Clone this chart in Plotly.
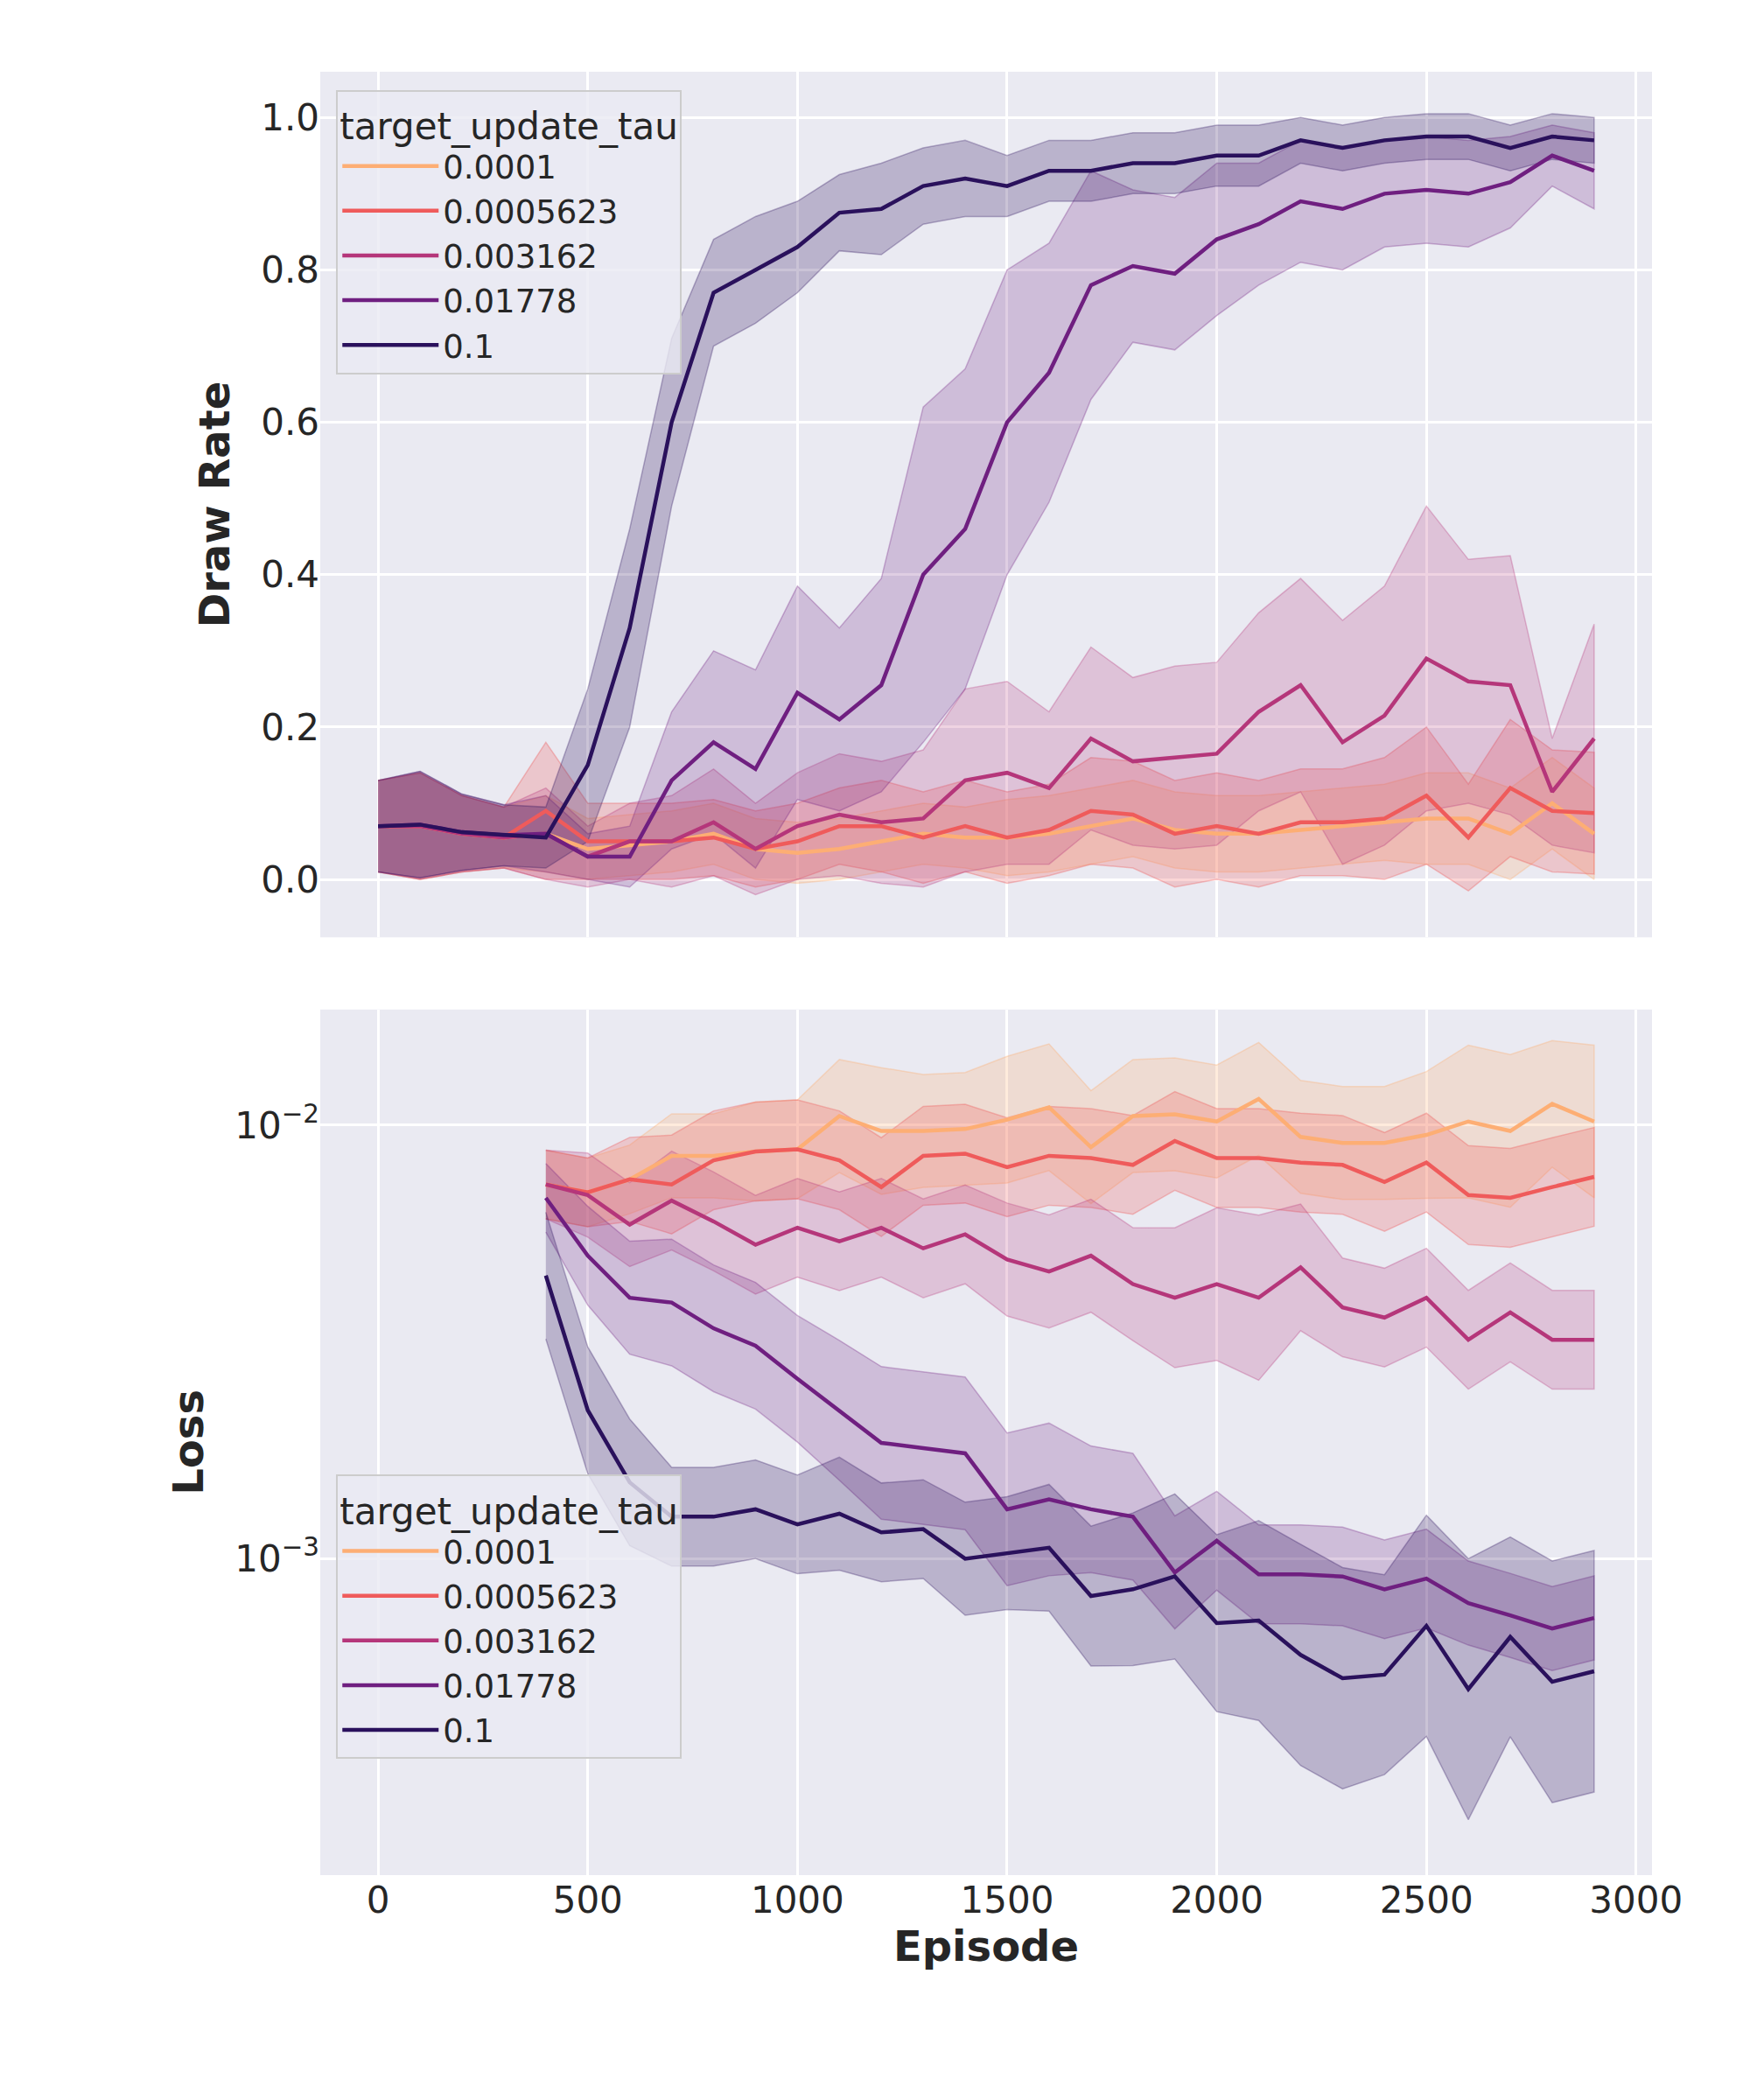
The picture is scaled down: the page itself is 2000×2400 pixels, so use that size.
import plotly.graph_objects as go
from plotly.subplots import make_subplots

taus = ["0.0001", "0.0005623", "0.003162", "0.01778", "0.1"]
colors = ["#fdae74", "#ef5b5b", "#b5367a", "#6f1f80", "#2a115c"]
fills = ["rgba(253,174,116,0.25)", "rgba(239,91,91,0.25)", "rgba(181,54,122,0.22)",
         "rgba(111,31,128,0.22)", "rgba(42,17,92,0.25)"]
edges = ["rgba(253,174,116,0.35)", "rgba(239,91,91,0.35)", "rgba(181,54,122,0.3)",
         "rgba(111,31,128,0.3)", "rgba(42,17,92,0.3)"]

ep_draw = list(range(0, 3000, 100))
ep_loss = list(range(400, 3000, 100))

draw = {
    "0.0001": [0.07, 0.07, 0.06, 0.055, 0.06, 0.04, 0.045, 0.05, 0.06, 0.04, 0.035, 0.04, 0.05, 0.06, 0.055,
               0.055, 0.06, 0.07, 0.08, 0.065, 0.06, 0.06, 0.065, 0.07, 0.075, 0.08, 0.08, 0.06, 0.1, 0.06],
    "0.0005623": [0.07, 0.07, 0.06, 0.055, 0.09, 0.05, 0.05, 0.05, 0.055, 0.04, 0.05, 0.07, 0.07, 0.055, 0.07,
                  0.055, 0.065, 0.09, 0.085, 0.06, 0.07, 0.06, 0.075, 0.075, 0.08, 0.11, 0.055, 0.12, 0.09, 0.087],
    "0.003162": [0.07, 0.07, 0.06, 0.055, 0.06, 0.03, 0.05, 0.05, 0.075, 0.04, 0.07, 0.085, 0.075, 0.08, 0.13,
                 0.14, 0.12, 0.185, 0.155, 0.16, 0.165, 0.22, 0.255, 0.18, 0.215, 0.29, 0.26, 0.255, 0.115, 0.185],
    "0.01778": [0.07, 0.072, 0.062, 0.058, 0.06, 0.03, 0.03, 0.13, 0.18, 0.145, 0.245, 0.21, 0.255, 0.4, 0.46,
                0.6, 0.665, 0.78, 0.805, 0.795, 0.84, 0.86, 0.89, 0.88, 0.9, 0.905, 0.9, 0.915, 0.95, 0.93],
    "0.1": [0.07, 0.072, 0.062, 0.058, 0.055, 0.15, 0.33, 0.6, 0.77, 0.8, 0.83, 0.875, 0.88, 0.91, 0.92,
            0.91, 0.93, 0.93, 0.94, 0.94, 0.95, 0.95, 0.97, 0.96, 0.97, 0.975, 0.975, 0.96, 0.975, 0.97],
}
draw_err = {
    "0.0001": [0.06, 0.07, 0.05, 0.04, 0.05, 0.04, 0.04, 0.04, 0.04, 0.04, 0.04, 0.04, 0.04, 0.04, 0.04,
               0.05, 0.05, 0.05, 0.05, 0.05, 0.05, 0.05, 0.05, 0.05, 0.05, 0.06, 0.06, 0.06, 0.06, 0.06],
    "0.0005623": [0.06, 0.07, 0.05, 0.04, 0.09, 0.05, 0.05, 0.05, 0.05, 0.05, 0.05, 0.05, 0.06, 0.06, 0.06,
                  0.06, 0.06, 0.07, 0.07, 0.07, 0.07, 0.07, 0.07, 0.07, 0.08, 0.09, 0.07, 0.09, 0.08, 0.08],
    "0.003162": [0.06, 0.07, 0.05, 0.04, 0.06, 0.04, 0.05, 0.06, 0.07, 0.06, 0.07, 0.08, 0.08, 0.09, 0.12,
                 0.12, 0.1, 0.12, 0.11, 0.12, 0.12, 0.13, 0.14, 0.16, 0.17, 0.2, 0.16, 0.17, 0.07, 0.15],
    "0.01778": [0.06, 0.07, 0.05, 0.04, 0.05, 0.03, 0.04, 0.09, 0.12, 0.13, 0.14, 0.12, 0.14, 0.22, 0.21,
                0.2, 0.17, 0.15, 0.1, 0.1, 0.1, 0.08, 0.08, 0.08, 0.07, 0.07, 0.07, 0.06, 0.04, 0.05],
    "0.1": [0.06, 0.07, 0.05, 0.04, 0.04, 0.1, 0.13, 0.11, 0.07, 0.07, 0.06, 0.05, 0.06, 0.05, 0.05,
            0.04, 0.04, 0.04, 0.04, 0.04, 0.04, 0.04, 0.03, 0.03, 0.03, 0.03, 0.03, 0.03, 0.03, 0.03],
}

loss = {  # units of 1e-3
    "0.0001": [7.3, 7.0, 7.5, 8.5, 8.5, 8.7, 8.8, 10.5, 9.7, 9.7, 9.8, 10.3, 11.0, 8.9, 10.5, 10.6, 10.2,
               11.5, 9.4, 9.1, 9.1, 9.5, 10.2, 9.7, 11.2, 10.2],
    "0.0005623": [7.3, 7.0, 7.5, 7.3, 8.3, 8.7, 8.8, 8.3, 7.2, 8.5, 8.6, 8.0, 8.5, 8.4, 8.1, 9.2, 8.4, 8.4,
                  8.2, 8.1, 7.4, 8.2, 6.9, 6.8, 7.2, 7.6],
    "0.003162": [7.3, 6.9, 5.9, 6.7, 6.0, 5.3, 5.8, 5.4, 5.8, 5.2, 5.6, 4.9, 4.6, 5.0, 4.3, 4.0, 4.3, 4.0,
                 4.7, 3.8, 3.6, 4.0, 3.2, 3.7, 3.2, 3.2],
    "0.01778": [6.8, 5.0, 4.0, 3.9, 3.4, 3.1, 2.6, 2.2, 1.85, 1.8, 1.75, 1.3, 1.37, 1.3, 1.25, 0.93, 1.1,
                0.92, 0.92, 0.91, 0.85, 0.9, 0.79, 0.74, 0.69, 0.73],
    "0.1": [4.5, 2.2, 1.5, 1.25, 1.25, 1.3, 1.2, 1.27, 1.15, 1.17, 1.0, 1.03, 1.06, 0.82, 0.85, 0.91, 0.71,
            0.72, 0.6, 0.53, 0.54, 0.7, 0.5, 0.66, 0.52, 0.55],
}
loss_err = {  # multiplicative band factor
    "0.0001": [1.2, 1.2, 1.2, 1.25, 1.25, 1.3, 1.3, 1.35, 1.4, 1.35, 1.35, 1.4, 1.4, 1.35, 1.35, 1.35, 1.35,
               1.35, 1.35, 1.35, 1.35, 1.4, 1.5, 1.5, 1.4, 1.5],
    "0.0005623": [1.2, 1.2, 1.25, 1.3, 1.3, 1.3, 1.3, 1.3, 1.3, 1.3, 1.3, 1.3, 1.3, 1.3, 1.3, 1.3, 1.3, 1.3,
                  1.3, 1.3, 1.3, 1.3, 1.3, 1.3, 1.3, 1.3],
    "0.003162": [1.2, 1.25, 1.25, 1.3, 1.3, 1.3, 1.3, 1.3, 1.3, 1.3, 1.3, 1.35, 1.35, 1.35, 1.35, 1.45, 1.5,
                 1.55, 1.4, 1.3, 1.3, 1.3, 1.3, 1.3, 1.3, 1.3],
    "0.01778": [1.2, 1.3, 1.35, 1.4, 1.4, 1.4, 1.4, 1.45, 1.5, 1.5, 1.5, 1.5, 1.5, 1.4, 1.4, 1.35, 1.3,
                1.3, 1.3, 1.3, 1.3, 1.3, 1.25, 1.25, 1.25, 1.25],
    "0.1": [1.4, 1.4, 1.4, 1.3, 1.3, 1.3, 1.3, 1.35, 1.3, 1.3, 1.35, 1.35, 1.4, 1.45, 1.5, 1.55, 1.6,
            1.7, 1.8, 1.8, 1.7, 1.8, 2.0, 1.7, 1.9, 1.9],
}

fig = make_subplots(rows=2, cols=1, shared_xaxes=True, vertical_spacing=0.04)

for i, t in enumerate(taus):
    hi = [m + e for m, e in zip(draw[t], draw_err[t])]
    lo = [m - e for m, e in zip(draw[t], draw_err[t])]
    fig.add_trace(go.Scatter(x=ep_draw + ep_draw[::-1], y=hi + lo[::-1], fill="toself",
                             fillcolor=fills[i], line=dict(color=edges[i], width=1.5),
                             showlegend=False, hoverinfo="skip"), 1, 1)
for i, t in enumerate(taus):
    fig.add_trace(go.Scatter(x=ep_draw, y=draw[t], mode="lines", name=t,
                             line=dict(color=colors[i], width=4.5), legend="legend"), 1, 1)

for i, t in enumerate(taus):
    m = [v * 1e-3 for v in loss[t]]
    hi = [v * f for v, f in zip(m, loss_err[t])]
    lo = [v / f for v, f in zip(m, loss_err[t])]
    fig.add_trace(go.Scatter(x=ep_loss + ep_loss[::-1], y=hi + lo[::-1], fill="toself",
                             fillcolor=fills[i], line=dict(color=edges[i], width=1.5),
                             showlegend=False, hoverinfo="skip"), 2, 1)
for i, t in enumerate(taus):
    fig.add_trace(go.Scatter(x=ep_loss, y=[v * 1e-3 for v in loss[t]], mode="lines", name=t,
                             line=dict(color=colors[i], width=4.5), legend="legend2"), 2, 1)

axis_common = dict(showgrid=True, gridcolor="white", gridwidth=2.5, zeroline=False,
                   showline=False, tickfont=dict(size=42, color="#262626"), ticks="")
legend_common = dict(bgcolor="rgba(234,234,242,0.8)", bordercolor="#cccccc", borderwidth=2,
                     font=dict(size=37, color="#262626"), title=dict(font=dict(size=42)),
                     xanchor="left", yanchor="top", tracegroupgap=0, itemwidth=110)

fig.update_layout(
    width=2000, height=2400, template=None,
    paper_bgcolor="white", plot_bgcolor="#eaeaf2",
    font=dict(family="DejaVu Sans", color="#262626"),
    margin=dict(l=358, r=120, t=74, b=265),
    legend=dict(x=0.012, y=0.99, title_text="target_update_tau", **legend_common),
    legend2=dict(x=0.012, y=0.222, title_text="target_update_tau", **legend_common),
)
fig.update_xaxes(**axis_common, range=[-138, 3038], dtick=500)
fig.update_xaxes(title=dict(text="<b>Episode</b>", font=dict(size=48), standoff=10), row=2, col=1)
fig.update_yaxes(**axis_common)
fig.update_yaxes(range=[-0.076, 1.06], dtick=0.2, tickformat=".1f",
                 title=dict(text="<b>Draw Rate</b>", font=dict(size=48), standoff=20), row=1, col=1)
fig.update_yaxes(type="log", range=[-3.73, -1.733], tickvals=[1e-3, 1e-2],
                 ticktext=["10<sup>−3</sup>", "10<sup>−2</sup>"],
                 title=dict(text="<b>Loss</b>", font=dict(size=48), standoff=20), row=2, col=1)
fig.layout.yaxis.domain = [0.52, 1.0]
fig.layout.yaxis2.domain = [0.0, 0.48]

fig.write_html("out.html")
